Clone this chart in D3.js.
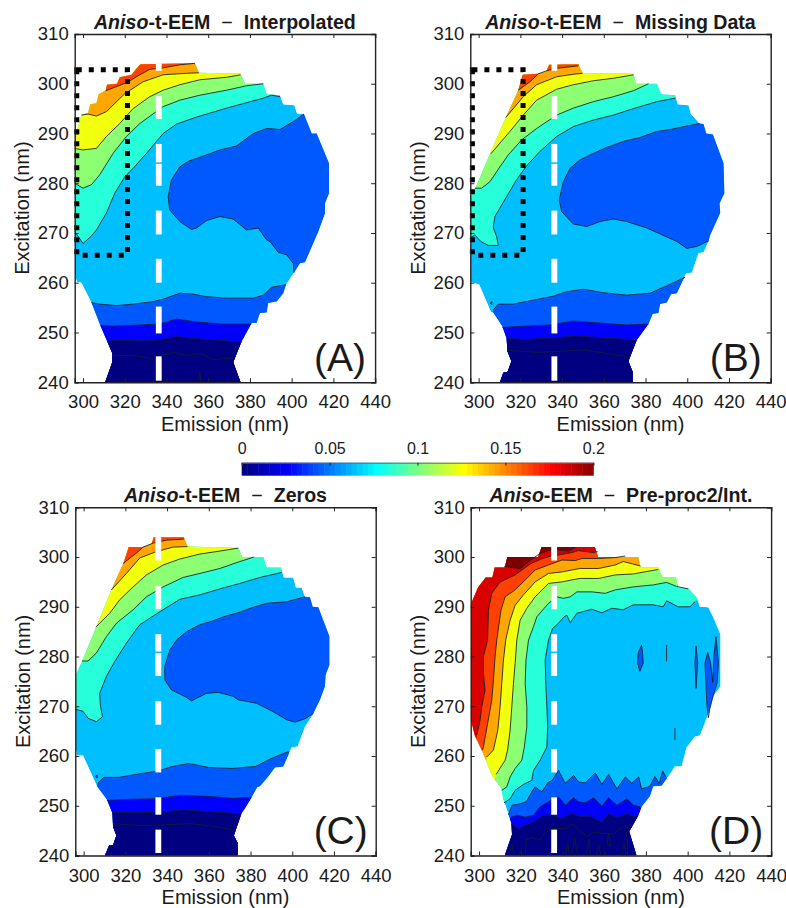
<!DOCTYPE html>
<meta charset="utf-8">
<script src="https://d3js.org/d3.v7.min.js"></script>
<style>
    body{margin:0;background:#fff}
    svg{display:block}
    text{font-family:"Liberation Sans",Arial,sans-serif;fill:#1a1a1a}
</style>
<div id="chart"></div>
<script>
    // all outlines and contour lines are [emission, excitation] in nm
    const xTicks=[300,320,340,360,380,400,420,440];
    const yTicks=[240,250,260,270,280,290,300,310];
    const colorTicks=[0,0.05,0.1,0.15,0.2];
    const baseLevel=0.0625;

    const outlineA=[[296,290.4],[297.1,290.6],[299.2,293.7],[302.4,294.1],[303.5,295.9],[306.4,296.1],[307.5,297.9],[310.9,298.7],[311.5,299.8],[316.3,300],[317.6,301.3],[323.2,301.8],[327.2,303.8],[328,303.9],[353.6,304.1],[355.5,302.2],[375.5,302],[377.6,300],[386.4,300],[388,297.9],[394.4,297.7],[396,295.9],[401.3,295.7],[402.7,293.9],[405.9,293.9],[409.6,290],[412,290],[417.9,284],[417.9,278],[416,276],[416,274],[412.8,270.3],[406.4,264.1],[404,263.9],[401.1,262],[397.3,259.6],[396,257.9],[392.8,256.2],[388.8,255.9],[388,254],[384.8,253.9],[383.2,251.9],[380.8,251.9],[376,248.2],[372,244],[375.5,240],[310.6,240],[314,244],[314,245.8],[308,251.7],[304,256],[299.2,260],[297,260.2],[296,261.9]];
    const upperA=[
        [0.0825,[[296,270.3],[300,267.9],[304,269.4],[306.4,270.6],[311.2,274],[315.2,278],[320,281.3],[324,283],[330.4,286],[338.4,290],[344.8,291.9],[354.4,293.3],[359.2,293.9],[368.8,295.1],[378.4,296.2],[386.4,297.1],[390.4,297.7],[394.4,297.4]]],
        [0.1025,[[296,280],[300,279],[304,279.7],[308,281.7],[314.4,286],[320.8,289.4],[327.2,292],[338.4,295.4],[346.4,296.7],[356,297.7],[368.8,298.7],[378.4,299.6],[386.4,300]]],
        [0.1225,[[296,287],[300,286.7],[306.4,287],[311.2,289.4],[317.6,292],[324,295],[332,297.4],[338.4,298.7],[346.4,299.8],[356,300.8],[368.8,301.3],[375.5,301.8]]],
        [0.1425,[[299.2,293.7],[302.4,293.9],[306.4,293.5],[311.2,294.4],[320,298],[328.8,300.4],[338.4,301.8],[349.6,302.1],[355.5,302.2]]],
        [0.1625,[[310.9,298.6],[320.8,300.2],[327.2,301.8],[332,302.9],[338.4,303.2],[346.4,303.8],[353.6,304.1]]]
    ];
    const lowerA=[
        [0.0425,[[304,256],[308,255.7],[316,255.4],[324,255.7],[333.6,256.2],[338.4,256.7],[346.4,257.9],[352.8,257.7],[359.2,257.2],[368.8,256.9],[381.6,256.9],[386.4,257.5],[390.4,259.1],[397.3,259.6]]],
        [0.025,[[308.3,251.4],[314.4,251.3],[327.2,251.5],[336.8,251.7],[344.8,252.7],[352.8,252.2],[365.6,251.7],[380.8,251.7]]],
        [0,[[312.5,248.4],[319.2,248.4],[330.4,248.3],[336.8,248.5],[344.8,249.2],[352.8,248.8],[365.6,248.4],[376,248.1]]],
        [0,[[314,245.4],[325.6,245.3],[332,244.8],[336.8,245.3],[343.2,246],[349.6,245.4],[356,245.8],[362.4,244.5],[372,244.9]]]
    ];
    const blobsA=[[0.0425,[[405.9,293.9],[400.8,292.4],[394.4,290.8],[388,291],[381.6,290],[373.6,287.5],[365.6,286.7],[359.2,285.7],[350.4,284.4],[346.4,283.3],[342.4,280.7],[340.8,277.3],[341.6,274.6],[346.4,272.3],[352,270.7],[354.4,271],[359.2,272.5],[365.6,273.3],[372,272.8],[378.4,270.6],[384,271],[388,268.6],[389.6,268.3],[393.6,266.1],[397.6,265.6],[400.8,263.9],[401.1,262]]]];
    const wiggleA=[[[355.3,240],[356,242.1],[356.5,240]]];

    const outlineB=[[296.2,277.3],[298.2,278.8],[305.4,285.9],[313,293.2],[319,298.7],[321.1,301.8],[328.6,302],[332.3,302.4],[333.8,303.8],[347.8,303.9],[349.8,302.1],[374.2,302],[375.5,300],[385.4,300],[387.5,297.9],[394.2,297.7],[395.5,295.9],[400.6,295.7],[401.8,293.9],[405.9,292],[407.8,291.9],[409.1,290],[412.3,289.8],[417.4,284],[417.8,278],[415.5,276],[415.8,274],[411,269.6],[410.2,268.3],[407.8,266.1],[405.4,265.9],[402.2,262],[399.5,261.9],[395,257.9],[392.2,257.7],[390.2,256],[387,255.7],[386.2,253.9],[383.4,253.7],[381.4,251.7],[375.8,248.5],[371.8,244.2],[373.8,242.1],[373.8,240],[310.2,240],[311.8,241.9],[313.9,242.1],[315.7,244.2],[313.8,246.2],[313.4,248.8],[311.4,251.2],[307,254],[305.9,254.1],[300.3,259.6],[296.2,260.2],[296.2,261.6]];
    const upperB=[
        [0.0825,[[296.2,269.1],[298.2,269.6],[301,268.3],[304.6,267.5],[309.4,267.5],[308.6,269.3],[307.4,270.6],[307,271.3],[307.8,273.3],[313.4,277.3],[318.2,280.7],[323,283.5],[329.4,286.4],[337.4,289.4],[345.4,291.4],[355,292.7],[364.6,293.7],[374.2,295],[385.4,296.4],[394.2,297.1]]],
        [0.1025,[[298.2,279],[301.4,279],[305.4,280.3],[310.2,283.3],[314.2,285.7],[320.6,288.7],[327.8,291],[337.4,293.7],[345.4,295.1],[355,296.4],[364.6,297.4],[374.2,298.6],[381.4,300]]],
        [0.1225,[[305.8,285.9],[315,290.4],[321.4,293.7],[327.8,296.7],[337.4,298.9],[345.4,299.8],[355,300.6],[364.6,301.1],[374.2,301.8]]],
        [0.1425,[[313,293.2],[321.4,297.4],[327.8,299.8],[337.4,301.4],[345.4,301.9],[349.8,302.1]]],
        [0.1625,[[319,298.7],[324.6,300.4],[328.6,302],[332.6,302.6],[337.4,303.1],[347.8,303.6]]]
    ];
    const lowerB=[
        [0.0425,[[307,254.5],[309.4,255.7],[316.6,255.7],[326.2,256.5],[335.8,257.3],[342.2,258.2],[350.2,258.7],[359.8,258],[371,257.5],[382.2,257.9],[390.2,259.4],[399,261.1]]],
        [0.025,[[311.4,251],[323,251.3],[334.2,251.5],[345.4,252.3],[358.2,251.9],[371,251.5],[381.4,251.7]]],
        [0,[[313.4,248.8],[323,248.6],[335.8,248.9],[347,249.3],[359.8,248.9],[375.8,248.5]]],
        [0,[[313.8,246.4],[327.8,246],[339,246.2],[350.2,246.5],[361.4,245.8],[371.8,245.1]]]
    ];
    const blobsB=[
        [0.0425,[[405.9,292],[399.8,291.5],[391.8,290.8],[385.4,290.4],[377.4,289.2],[369.4,288.4],[361.4,287.2],[355,286],[348.6,284.7],[343.8,283],[340.6,280.3],[338.6,276.6],[339.8,274.3],[345.4,271.8],[351.8,271.3],[358.2,272.3],[364.6,272.8],[371,272.3],[380.6,271],[387,269.8],[395,268.3],[399.8,266.9],[404.6,267.3],[410.2,268.4]]],
        [0.0425,[[305.5,255.9],[306.3,256.2],[306.3,255.6],[305.5,255.9]]]
    ];

    const outlineC=[[296.2,276.3],[299.2,279],[306.1,286],[313.3,293.4],[319.2,298.9],[321.6,302],[328.5,302],[332.5,302.6],[333.6,304],[348,304],[349.8,302.1],[374.1,301.8],[376,300],[386.1,300],[387.7,297.9],[394.6,297.9],[396,295.9],[400.5,295.9],[401.8,293.9],[404.5,293.9],[406.1,292],[408.5,291.9],[409.8,290],[412.5,289.9],[417.8,284.1],[417.8,278.3],[416,276.3],[415.7,274],[413.3,271.3],[409.8,268.3],[406.1,265.9],[402.6,261.9],[399.7,261.7],[395.7,257.9],[391.7,257.7],[388.5,255.9],[384.5,253.9],[383.2,253.7],[380.5,251.7],[377.8,249.8],[375.7,248.5],[372,244],[373.8,242.5],[373.8,240],[310.2,240],[312.2,242],[314.1,242.1],[315.7,244],[314.1,245.8],[313.8,248.5],[311.2,251.2],[306.4,253.9],[299.7,260.1],[296.8,260.1],[296.2,261.6]];
    const upperC=[
        [0.0825,[[296.2,269.4],[299.7,269],[302.1,267.6],[306.1,266.9],[309,267.9],[308,270.3],[307.7,272.6],[310.9,276],[314.9,279],[320.5,282.7],[326.9,286.4],[336.5,289],[346.1,291.5],[355.7,292.4],[365.3,293.6],[374.9,294.7],[384.5,295.9],[394.9,296.9]]],
        [0.1025,[[299.2,279.1],[302.1,279.1],[306.1,280.7],[310.9,284],[315.7,286.7],[323.7,289.4],[330.1,292],[338.1,294],[347.7,295.9],[355.7,296.7],[365.3,297.7],[374.9,299.1],[381.6,300]]],
        [0.1225,[[305.8,285.9],[312.5,288.7],[317.3,291.4],[323.7,294],[330.1,296.4],[338.1,298.4],[346.1,299.6],[355.7,300.6],[365.3,301.2],[374.1,301.8]]],
        [0.1425,[[313.3,293.4],[320.5,296.7],[326.9,299.8],[334.9,301.1],[342.9,302],[349.8,302.1]]],
        [0.1625,[[318.9,298.7],[325.3,300.8],[328.5,302],[333.3,302.8],[339.7,303.4],[348,303.6]]]
    ];
    const lowerC=[
        [0.0425,[[306.8,254.5],[309.6,255.7],[316.8,255.7],[326.4,256.4],[336,257],[342.4,257.9],[350.4,258.5],[360,257.7],[371.2,257.5],[382.4,257.9],[390.4,259.6],[398.2,260.9]]],
        [0.025,[[311.2,251.1],[323.7,251.3],[334.9,251.4],[346.1,252.1],[358.9,251.9],[371.7,251.5],[380.5,251.7]]],
        [0,[[313.8,248.7],[323.7,248.6],[336.5,248.7],[347.7,249.2],[360.5,248.8],[375.7,248.4]]],
        [0,[[314.1,246.4],[328.5,246],[339.7,246.2],[350.9,246.4],[362.1,245.9],[372.5,245]]]
    ];
    const blobsC=[
        [0.0425,[[406.1,292],[397.3,291],[387.7,290.7],[381.3,289.9],[373.3,288.7],[368.5,288.2],[362.1,287.2],[355.7,286.4],[349.3,285],[344.5,283.3],[341.3,281.3],[338.9,278],[338.9,275.3],[342.1,273.3],[349.3,271.8],[351.7,271.1],[354.1,271.6],[358.9,272.6],[364.5,272.8],[371.7,272],[374.1,271.3],[382.9,270.6],[390.9,268.9],[397.3,267.3],[401.3,266.8],[406.1,267.5],[410.1,268.5]]],
        [0.0425,[[305.7,255.9],[306.5,256.2],[306.5,255.6],[305.7,255.9]]]
    ];

    const outlineD=[[296,290.4],[299.5,293.9],[303.2,295.9],[306.4,295.9],[307.5,297.9],[312.3,297.9],[313.6,300],[328.3,300],[330,302],[355.5,302],[357.1,300],[376.3,300],[377.4,297.9],[386,297.9],[388,295.9],[394.4,295.9],[395.5,293.9],[400.3,293.7],[404.3,291.9],[405.9,290],[409.9,289.9],[412.3,287.9],[415.8,284.4],[415.8,274],[412.3,272],[410.7,269.6],[409.1,267.6],[405.9,264.1],[403.5,263.9],[399.5,261.7],[397.1,257.9],[393.9,257.9],[390.7,255.9],[387.5,254],[383.5,253.9],[381.9,251.9],[377.9,249.8],[376.3,248],[372,244.8],[375.5,240],[312.3,240],[315.8,244.2],[315.5,246.5],[311.5,251.5],[310.7,253.5],[306.4,255.9],[301.9,260.6],[297.9,264.2],[296,267.6]];
    const upperD=[
        [0.0825,[[312,250.6],[314.9,251.4],[317.3,253.1],[321.3,254.3],[325.3,255.1],[326.1,257.1],[329.3,259.15],[332.5,261.8],[332.9,265.9],[332.5,269.9],[332,274.6],[331.7,279.3],[333.3,283.3],[335.2,285.6],[338.1,286.7],[340.8,288],[342.1,288.3],[343.7,286.8],[346.9,288.7],[354.1,289.5],[358.9,288.8],[363.7,289.7],[369.1,289.4],[373.9,290.4],[383.5,290.4],[388.3,290],[389.9,291.2],[395.5,290],[401.1,290],[403.5,291]]],
        [0.1025,[[310.9,253.1],[313.3,253.8],[314.9,255.8],[317.3,257.5],[320.5,259.15],[321.7,261.8],[322.9,265.9],[322.9,269.9],[322.1,274.6],[322.5,279.3],[323.7,283.3],[326.1,286],[327.7,288],[333.3,290.7],[337.3,292],[340.5,291.7],[343.7,292],[346.9,293],[354.1,293],[360.5,292.7],[365.3,293.4],[373.9,294],[383.5,294.4],[389.9,294.9],[394.7,294.1],[400.3,293.6]]],
        [0.1225,[[308.2,256.3],[312.5,259.15],[313.7,261.2],[314.9,265.2],[315.7,269.9],[316.5,274.6],[317.3,278.6],[318.1,283.3],[319.7,287.3],[322.9,289.7],[326.9,292],[333.3,294.7],[339.7,295],[344.5,295.4],[348.5,295.7],[357.3,295.7],[365.3,296.4],[373.9,296.6],[385.9,297.5]]],
        [0.1425,[[303.7,259.8],[306.9,261.2],[309,265.2],[310.1,269.9],[310.9,274.6],[311.7,279.3],[312.8,283.3],[314.9,287.3],[317.3,290.3],[321.3,292.4],[326.9,295],[333.3,296.7],[339.7,297],[344.5,297.4],[348.5,297.7],[357.3,297.7],[365.3,298.4],[369.1,299.1],[377.4,298.2]]],
        [0.1625,[[301.6,261.2],[302.1,261.8],[304.1,266.5],[306.1,271.2],[306.9,275.3],[307.7,280],[308.5,283.3],[310.5,289.3],[312.5,292],[317.3,293.4],[322.9,295.7],[326.9,297.4],[333.3,298.4],[339.7,299.4],[346.1,299.3],[349.3,299.7],[357.3,299.7],[365.3,299.9],[370.1,300.2]]],
        [0.1825,[[298.9,264.2],[300.5,267.2],[301.3,269.9],[302.9,273.2],[302.1,276.6],[302.1,280],[304.1,283.3],[304.5,289.3],[306.1,292.7],[310.1,295],[317.3,296.4],[324.5,298.6],[330.4,299.7],[334.5,300.2],[338.1,300.4],[344.5,300.9],[347.7,301.3],[354.9,300.9],[356.8,301.1]]],
        [0.2,[[312.1,298.1],[319.7,297.7],[324.5,299.3],[328.1,300.4],[330.4,300.9],[334.5,301.4],[337.7,301.4],[342.9,301.2],[346.1,301.9]]]
    ];
    const lowerD=[
        [0.0425,[[314.1,248.1],[315.7,250.1],[319.7,250.4],[322.6,250.8],[325.3,252.8],[326.9,253.8],[330.1,252.8],[333.3,254.8],[334.9,255],[338.1,257.1],[341.3,254.5],[345.3,256.1],[347.7,254.8],[350.9,254.6],[355.7,256.6],[358.9,254.3],[362.1,256.3],[366.1,253.4],[370.1,255.8],[373.3,254.5],[376.5,255.8],[377.9,253.4],[381.9,253.9],[384.3,255.9],[386.4,254.5],[388,257],[389.6,255.8]]],
        [0.025,[[315.4,247.7],[318.1,248.1],[322.1,247.7],[326.1,248.1],[329.3,249.8],[331.7,250.4],[334.9,251.2],[338.1,251.8],[341.3,250.1],[345.3,251.6],[347.7,250.8],[350.9,250.6],[354.9,251.6],[358.9,249.9],[362.1,251.6],[366.1,250.1],[370.9,251.4],[374.1,250.1],[377.1,249.8]]],
        [0,[[315.4,246.4],[318.9,245.4],[321.3,245.9],[326.1,246.7],[330.9,248.1],[335.7,248.1],[339.7,247.4],[344.5,248.5],[348.5,247.8],[353.3,247.8],[358.9,246.7],[362.1,248.4],[366.1,247.6],[370.9,248.4],[374.1,247.7],[375.7,247.9]]]
    ];
    const blobsD=[
        [0.0425,[[377.9,282.3],[376.3,280.7],[376,278.7],[377.1,277],[378.7,278.7],[378.4,280.7],[377.9,282.3]]],
        [0.0425,[[404,282.1],[403.5,278.7],[404,273.6],[404.8,278.7],[404,282.1]]],
        [0.0425,[[409.6,280.8],[408.3,278.7],[408.8,274],[409.1,271.3],[409.4,269.6],[409.9,267.7],[410.7,269.6],[412.3,272.2],[414.2,274.8],[414.7,278.8],[413.6,284],[412.6,280.2],[412,274.8],[411,278.7],[409.6,280.8]]]
    ];
    const wiggleD=[
        [[322.1,240],[322.6,243.1],[325.3,243.6],[329.3,243.1],[331.7,244.7],[334.9,245.4],[341.3,245.4],[345.3,246.4],[347.7,245],[351.7,243.9],[354.9,244.7],[359.7,244.4],[364.5,244.3],[370.1,246.1],[371.2,243.1],[371.2,240]],
        [[314.5,240],[315.7,242.4],[316.8,240]],
        [[318.6,240],[320,241],[320.5,240]],
        [[341.3,240],[342.4,242.4],[343.4,240]],
        [[344.5,240],[345.8,243.6],[347.2,240]],
        [[351.4,240],[352.8,243.4],[353.3,240]],
        [[356.2,240],[357.3,242.1],[358.4,240]],
        [[361.3,242.1],[362.1,244.5],[363.2,242.1],[361.3,242.1]],
        [[368.5,240],[369.6,242.4],[370.6,240]],
        [[389.9,282.3],[389.9,279]],
        [[393.9,265.6],[393.9,263.2]]
    ];

    // white dashed emission line: [from, to] excitation, then the box around the missing corner
    const dashAB=[[240.3,245.2],[249.8,255.2],[260,264.8],[269.7,274.5],[279.5,283.9],[284.2,287.9],[292.9,297.5],[302.6,304.1]];
    const dashCD=[[240.5,245.2],[248.2,251.7],[256.7,261.4],[266.3,271],[276.1,280.7],[281,284.5],[289.5,294.2],[299.3,304]];
    const boxEm=[297,321.3];
    const boxEx=[265.5,302.8];

    const panels=[
        {id:"A",left:74.7,top:34,title:["Aniso","-t-EEM"," − ","Interpolated"],outline:outlineA,upper:upperA,lower:lowerA,blobs:blobsA,wiggle:wiggleA,dash:dashAB,dashEm:336.3,box:true,closeLow:false},
        {id:"B",left:470.3,top:34,title:["Aniso","-t-EEM"," − ","Missing Data"],outline:outlineB,upper:upperB,lower:lowerB,blobs:blobsB,wiggle:[],dash:dashAB,dashEm:336.3,box:true,closeLow:false},
        {id:"C",left:75.3,top:507.3,title:["Aniso","-t-EEM"," − ","Zeros"],outline:outlineC,upper:upperC,lower:lowerC,blobs:blobsC,wiggle:[],dash:dashCD,dashEm:335.8,box:false,closeLow:false},
        {id:"D",left:470.7,top:507.3,title:["Aniso","-EEM"," − ","Pre-proc2/Int."],outline:outlineD,upper:upperD,lower:lowerD,blobs:blobsD,wiggle:wiggleD,dash:dashCD,dashEm:336,box:false,closeLow:true}
    ];

    const width=300.4,height=348.2;

    // jet
    const color=d3.scaleLinear()
        .domain([0,0.025,0.075,0.125,0.175,0.2])
        .range(["#000080","#0000ff","#00ffff","#ffff00","#ff0000","#800000"])
        .clamp(true);

    const svg=d3.select("#chart").append("svg")
        .attr("width",786)
        .attr("height",908);

    panels.forEach(function(p){
        const x=d3.scaleLinear().domain([296,440]).range([0,width]);
        const y=d3.scaleLinear().domain([240,310]).range([height,0]);
        const line=d3.line().x(d=>x(d[0])).y(d=>y(d[1]));
        const clipId="clip"+p.id;

        const g=svg.append("g")
            .attr("transform",`translate(${p.left},${p.top})`);

        g.append("clipPath").attr("id",clipId)
            .append("path").attr("d",line(p.outline)+"Z");

        const inside=g.append("g").attr("clip-path",`url(#${clipId})`);
        inside.append("path")
            .attr("d",line(p.outline)+"Z")
            .attr("fill",color(baseLevel));

        // bands are closed past the outline and clipped to it, coldest to hottest upwards
        const downClose=[[440,240],[296,240]];
        const blobClose=[[440,240],[440,310]];
        const fillBand=(pts,v)=>inside.append("path").attr("d",line(pts)+"Z").attr("fill",color(v));

        p.upper.forEach(d=>{
            // in D the lines start on the lower left edge, so go round that corner too
            const low=p.closeLow&&d[1][0][1]<280;
            fillBand(d[1].concat(low?[[440,310],[296,310],[296,240]]:[[440,310],[296,310]]),d[0]);
        });
        p.lower.forEach(d=>fillBand(d[1].concat(downClose),d[0]));
        p.blobs.forEach(d=>{
            const open=d[1][0][0]!==d[1][d[1].length-1][0];
            fillBand(open?d[1].concat(blobClose):d[1],d[0]);
        });

        const lines=p.upper.concat(p.lower,p.blobs).map(d=>d[1]).concat(p.wiggle);
        g.append("g").selectAll("path")
            .data(lines)
            .join("path")
                .attr("d",d=>line(d))
                .attr("fill","none")
                .attr("stroke","#10202a")
                .attr("stroke-width",0.85);

        g.append("g").selectAll("rect")
            .data(p.dash)
            .join("rect")
                .attr("x",x(p.dashEm-1.4))
                .attr("width",x(p.dashEm+1.4)-x(p.dashEm-1.4))
                .attr("y",d=>y(d[1]))
                .attr("height",d=>y(d[0])-y(d[1]))
                .attr("fill","#fff");

        if(p.box){
            g.append("rect")
                .attr("x",x(boxEm[0]))
                .attr("y",y(boxEx[1]))
                .attr("width",x(boxEm[1])-x(boxEm[0]))
                .attr("height",y(boxEx[0])-y(boxEx[1]))
                .attr("fill","none")
                .attr("stroke","#000")
                .attr("stroke-width",5)
                .attr("stroke-dasharray","5 7");
        }

        // axes on all four sides, ticks inside
        const styleAxis=a=>{
            a.selectAll("path").attr("stroke","#222").attr("stroke-width",1.4);
            a.selectAll("line").attr("stroke","#222").attr("stroke-width",1);
            a.selectAll("text").attr("font-size",18.5).attr("font-family","Liberation Sans");
        };
        g.append("g").attr("transform",`translate(0,${height})`)
            .call(d3.axisBottom(x).tickValues(xTicks).tickSize(-4).tickPadding(13)).call(styleAxis);
        g.append("g")
            .call(d3.axisTop(x).tickValues(xTicks).tickSize(-4).tickFormat("")).call(styleAxis);
        g.append("g")
            .call(d3.axisLeft(y).tickValues(yTicks).tickSize(-4).tickPadding(6)).call(styleAxis);
        g.append("g").attr("transform",`translate(${width},0)`)
            .call(d3.axisRight(y).tickValues(yTicks).tickSize(-4).tickFormat("")).call(styleAxis);

        g.append("text")
            .attr("x",width/2)
            .attr("y",height+48.5)
            .attr("text-anchor","middle")
            .attr("font-size",20)
            .text("Emission (nm)");
        g.append("text")
            .attr("transform",`translate(-45.5,${height/2})rotate(-90)`)
            .attr("text-anchor","middle")
            .attr("font-size",20)
            .text("Excitation (nm)");

        const title=g.append("text")
            .attr("x",width/2)
            .attr("y",-5.5)
            .attr("text-anchor","middle")
            .attr("font-size",19.6)
            .attr("font-weight","bold");
        title.append("tspan").attr("font-style","italic").text(p.title[0]);
        title.append("tspan").text(p.title[1]);
        title.append("tspan").attr("font-weight","normal").text(" \u00a0\u2212\u00a0 ");
        title.append("tspan").text(p.title[3]);

        g.append("text")
            .attr("x",width-35)
            .attr("y",height-11)
            .attr("text-anchor","middle")
            .attr("font-size",39)
            .text(`(${p.id})`);
    });

    // colorbar
    const barX=d3.scaleLinear().domain([0,0.2]).range([241.7,593.3]);
    const barSteps=d3.range(64).map(i=>i/64*0.2);
    const bar=svg.append("g").attr("transform","translate(0,462.7)");
    bar.selectAll("rect")
        .data(barSteps)
        .join("rect")
            .attr("x",d=>barX(d))
            .attr("width",barX(0.2/64)-barX(0)+0.5)
            .attr("height",13)
            .attr("fill",d=>color(d));
    bar.append("g")
        .call(d3.axisTop(barX).tickValues(colorTicks).tickFormat(d=>String(d)).tickSize(-3).tickPadding(9))
        .call(a=>{
            a.selectAll("path").attr("stroke","#666").attr("stroke-width",1);
            a.selectAll("line").attr("stroke","#222");
            a.selectAll("text").attr("font-size",16).attr("font-family","Liberation Sans");
        });
</script>
